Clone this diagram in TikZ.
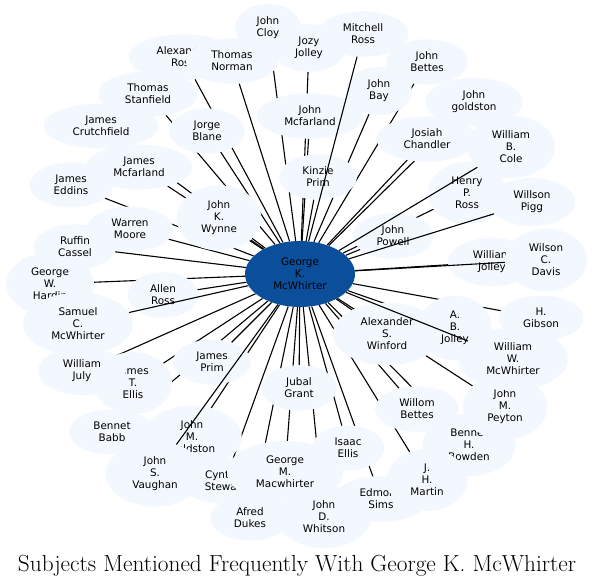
\documentclass[tikz,border=0pt]{standalone}
\usepackage{fontspec}
\newfontfamily\dejavu{DejaVu Sans}
\usetikzlibrary{shapes.geometric}
\definecolor{nodefill}{RGB}{243,247,254}
\definecolor{centerfill}{RGB}{11,79,155}
\pgfdeclarelayer{paper}
\pgfdeclarelayer{edgesunder}
\pgfdeclarelayer{edgesover}
\pgfsetlayers{paper,edgesunder,main,edgesover}
\begin{document}
\begin{tikzpicture}[x=1pt,y=-1pt,
  nd/.style={ellipse, fill=nodefill, draw=none, align=center,
    font=\dejavu\fontsize{10.4}{12}\selectfont, inner xsep=12pt, inner ysep=6pt},
  ctr/.style={nd, fill=centerfill, minimum width=110pt, minimum height=66pt},
  link/.style={draw=black, line width=1.1pt},
  titlestyle/.style={font=\fontsize{23.3}{27}\selectfont, inner sep=0pt}]
\begin{pgfonlayer}{paper}
\useasboundingbox[fill=white] (0,0) rectangle (595,588);
\end{pgfonlayer}
% nodes, in drawing order
\node[nd] (ghardin) at (50,284) {George\\W.\\Hardin};
\node[nd] (aross) at (183,57) {Alexander\\Ross};
\node[nd] (jozy) at (309,48) {Jozy\\Jolley};
\node[nd] (wjolley) at (492,262) {William\\Jolley};
\node[nd] (abj) at (455,328) {A.\\B.\\Jolley};
\node[nd] (jtellis) at (133,383) {James\\T.\\Ellis};
\node[nd] (jmgold) at (192,437) {John\\M.\\Goldston};
\node[nd] (cstew) at (225,481) {Cynthia\\Stewart};
\node[nd] (bhb) at (469,445) {Bennet\\H.\\Bowden};
\node[nd] (esims) at (381,499) {Edmond\\Sims};
\node[nd] (jpeyton) at (505,407) {John\\M.\\Peyton};
\node[nd] (tstan) at (148,94) {Thomas\\Stanfield};
\node[nd] (jcrutch) at (101,126) {James\\Crutchfield};
\node[nd] (jeddins) at (71,185) {James\\Eddins};
\node[nd] (jamcf) at (139,167) {James\\Mcfarland};
\node[nd] (jblane) at (207,131) {Jorge\\Blane};
\node[nd] (jwynne) at (219,218) {John\\K.\\Wynne};
\node[nd] (wmoore) at (130,229) {Warren\\Moore};
\node[nd] (allen) at (163,295) {Allen\\Ross};
\node[nd] (jprim) at (212,362) {James\\Prim};
\node[nd] (bbabb) at (112,432) {Bennet\\Babb};
\node[nd] (iellis) at (348,448) {Isaac\\Ellis};
\node[nd] (adukes) at (250,518) {Afred\\Dukes};
\node[nd] (jdw) at (324,517) {John\\D.\\Whitson};
\node[nd] (jgrant) at (299,388) {Jubal\\Grant};
\node[nd] (wombettes) at (417,409) {Willom\\Bettes};
\node[nd] (asw) at (387,334) {Alexander\\S.\\Winford};
\node[nd] (hgibson) at (541,318) {H.\\Gibson};
\node[nd] (wcole) at (511,147) {William\\B.\\Cole};
\node[nd] (hross) at (467,193) {Henry\\P.\\Ross};
\node[nd] (wpigg) at (532,202) {Willson\\Pigg};
\node[nd] (jpowell) at (393,236) {John\\Powell};
\node[nd] (jchand) at (427,139) {Josiah\\Chandler};
\node[nd] (jgold) at (474,102) {John\\goldston};
\node[nd] (jbettes) at (427,62) {John\\Bettes};
\node[nd] (jbay) at (379,91) {John\\Bay};
\node[nd] (mross) at (363,34) {Mitchell\\Ross};
\node[nd] (jmcf) at (310,116) {John\\Mcfarland};
\node[nd] (kprim) at (318,177) {Kinzie\\Prim};
\node[nd] (tnorman) at (232,61) {Thomas\\Norman};
\node[nd] (cloy) at (268,28) {John\\Cloy};
\node[nd] (wdavis) at (546,260) {Wilson\\C.\\Davis};
\node[nd] (rcassel) at (75,247) {Ruffin\\Cassel};
\node[nd] (scmcw) at (78,324) {Samuel\\C.\\McWhirter};
\node[nd] (wwmcw) at (513,359) {William\\W.\\McWhirter};
\node[nd] (wjuly) at (82,371) {William\\July};
\node[nd] (jsv) at (155,474) {John\\S.\\Vaughan};
\node[nd] (gmm) at (285,472) {George\\M.\\Macwhirter};
\node[nd] (jhm) at (427,480) {J.\\H.\\Martin};
\node[ctr] (gkm) at (300,274) {George\\K.\\McWhirter};
\node[titlestyle] (title) at (297,566) {Subjects Mentioned Frequently With George K. McWhirter};
% edges hidden by the nodes
\begin{pgfonlayer}{edgesunder}
\foreach \t in {ghardin,aross,jozy,wjolley,abj,jtellis,jmgold,cstew,bhb,esims,jpeyton,
  tstan,jcrutch,jeddins,jamcf,jblane,jwynne,wmoore,allen,jprim,bbabb,iellis,adukes,jdw,
  jgrant,wombettes,asw,hgibson,hross,jpowell,jchand,jgold,jbettes,jbay,jmcf,kprim,
  tnorman,cloy,rcassel,wjuly,gmm,jhm}
  \draw[link] (gkm) -- (\t);
\end{pgfonlayer}
% edges drawn over the nodes
\begin{pgfonlayer}{edgesover}
\foreach \t in {wcole,wpigg,mross,scmcw,wdavis,wwmcw,jsv}
  \draw[link] (gkm) -- (\t);
\end{pgfonlayer}
\end{tikzpicture}
\end{document}
